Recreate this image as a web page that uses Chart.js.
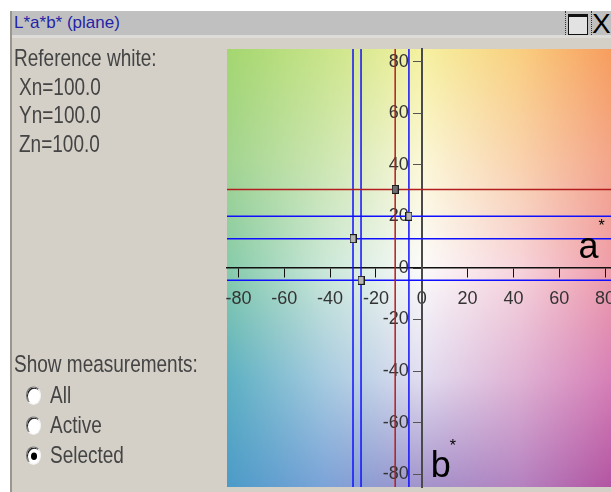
<!DOCTYPE html>
<html>
<head>
<meta charset="utf-8">
<title>L*a*b* (plane)</title>
<script src="https://cdn.jsdelivr.net/npm/chart.js@4.4.1/dist/chart.umd.min.js"></script>
<style>
  html, body { margin: 0; padding: 0; width: 611px; height: 492px; overflow: hidden; background: #fff; }
  body { position: relative; font-family: "Liberation Sans", Arial, sans-serif; }
  #win { position: absolute; left: 10px; top: 11px; width: 640px; height: 481px; background: #d4d0c8; border-left: 2px solid #9a968e; }
  #titlebar { position: absolute; left: 12px; top: 11px; width: 640px; height: 24px; background: #c0c0c0; }
  #band { position: absolute; left: 12px; top: 35px; width: 640px; height: 3px; background: #dedcd8; }
  #title { position: absolute; left: 14px; top: 13px; font-size: 17px; line-height: 20px; color: #2424a8; }
  .sep { position: absolute; top: 11px; height: 24px; border-left: 1px dotted #333; }
  #maxbox { position: absolute; left: 568px; top: 14px; width: 18px; height: 17px; background: #e2e2e2; border: 1.5px solid #111; border-top-width: 3px; }
  #close { position: absolute; left: 592px; top: 9px; font-size: 28px; line-height: 30px; color: #000; }
  .txt { position: absolute; font-size: 19px; line-height: 19px; color: #444; white-space: nowrap; transform: scaleY(1.25); transform-origin: left top; z-index: 3; }
  .radio { position: absolute; left: 26px; width: 13px; height: 13px; border-radius: 50%; background: #fff;
           border: 1.5px solid; border-color: #707070 #f4f4f4 #f4f4f4 #707070; box-shadow: inset 1px 1px 0 #222;
           transform: scaleY(1.25); transform-origin: center; z-index: 3; }
  .radio.on::after { content: ""; position: absolute; left: 3.5px; top: 3.5px; width: 6px; height: 6px; border-radius: 50%; background: #000; }
  #plot { position: absolute; left: 0; top: 0; width: 640px; height: 520px; z-index: 2; }
</style>
</head>
<body>
<div id="win"></div>
<div id="titlebar"></div>
<div id="band"></div>
<div id="title">L*a*b* (plane)</div>
<div class="sep" style="left:565px"></div>
<div id="maxbox"></div>
<div class="sep" style="left:591px"></div>
<div id="close">X</div>

<div class="txt" style="left:14px; top:45.6px">Reference white:</div>
<div class="txt" style="left:19px; top:74.9px">Xn=100.0</div>
<div class="txt" style="left:19px; top:103.2px">Yn=100.0</div>
<div class="txt" style="left:19px; top:131.6px">Zn=100.0</div>

<div class="txt" style="left:14px; top:351.6px">Show measurements:</div>
<div class="radio" style="top:388px"></div>
<div class="txt" style="left:50px; top:383.2px">All</div>
<div class="radio" style="top:418px"></div>
<div class="txt" style="left:50px; top:413.2px">Active</div>
<div class="radio on" style="top:448px"></div>
<div class="txt" style="left:50px; top:443.2px">Selected</div>

<div id="plot"><canvas id="chart" width="640" height="520"></canvas></div>

<script>
// a*b* plane ranges and ticks
const aRange = [-85, 85];
const bRange = [-85, 85];
const aTicks = [-80, -60, -40, -20, 0, 20, 40, 60, 80];
const bTicks = [-80, -60, -40, -20, 0, 20, 40, 60, 80];

// measurements (a*, b*), first one is the selected one
const measA = [-11.6, -5.6, -30.0, -26.5];
const measB = [30.5, 20.1, 11.4, -4.8];
const measSelected = [true, false, false, false];

// background colour nodes for the plane, rows from b*=+85 down to b*=-85
const planeNodes = [-85, -42.5, 0, 42.5, 85];
const planeColors = [
  ['#a3d66f', '#c9e489', '#f5f1a0', '#f9cf80', '#f79a5c'],
  ['#a2d48f', '#cde6b0', '#fbf7d6', '#f9d2ac', '#f3a388'],
  ['#86cbaa', '#cae7d8', '#fcfbfb', '#f7d4dc', '#ef9aa6'],
  ['#5db0c2', '#a6cbe0', '#e2ddf0', '#e0b3d4', '#d67db5'],
  ['#4b9bc8', '#7ba3d8', '#a393cb', '#b482c0', '#b352a0']
];

// y tick labels sit a little left of the b* axis line (in a* units)
const bLabelEdge = -5.7;

function hexToRgb(h) {
  return [parseInt(h.slice(1, 3), 16), parseInt(h.slice(3, 5), 16), parseInt(h.slice(5, 7), 16)];
}
const planeRgb = planeColors.map(row => row.map(hexToRgb));

function nodeIndex(v) {
  const n = planeNodes.length;
  if (v <= planeNodes[0]) return [0, 0];
  if (v >= planeNodes[n - 1]) return [n - 2, 1];
  for (let i = 0; i < n - 1; i++) {
    if (v <= planeNodes[i + 1]) return [i, (v - planeNodes[i]) / (planeNodes[i + 1] - planeNodes[i])];
  }
  return [n - 2, 1];
}

function planeColor(a, b) {
  const [ci, tx] = nodeIndex(a);
  const [ri, ty] = nodeIndex(-b); // rows go top-down
  const out = [0, 0, 0];
  for (let k = 0; k < 3; k++) {
    const c00 = planeRgb[ri][ci][k], c01 = planeRgb[ri][ci + 1][k];
    const c10 = planeRgb[ri + 1][ci][k], c11 = planeRgb[ri + 1][ci + 1][k];
    const top = c00 + (c01 - c00) * tx;
    const bot = c10 + (c11 - c10) * tx;
    out[k] = top + (bot - top) * ty;
  }
  return out;
}

// paint the a*b* plane under the axes
const planePlugin = {
  id: 'labPlane',
  beforeDraw(chart) {
    const { ctx, chartArea: ca, scales: { x, y } } = chart;
    const x0 = Math.round(ca.left), y0 = Math.round(ca.top);
    const w = Math.round(ca.right) - x0, h = Math.round(ca.bottom) - y0;
    const img = ctx.createImageData(w, h);
    for (let j = 0; j < h; j++) {
      const b = y.getValueForPixel(y0 + j + 0.5);
      for (let i = 0; i < w; i++) {
        const a = x.getValueForPixel(x0 + i + 0.5);
        const c = planeColor(a, b);
        const p = (j * w + i) * 4;
        img.data[p] = c[0];
        img.data[p + 1] = c[1];
        img.data[p + 2] = c[2];
        img.data[p + 3] = 255;
      }
    }
    ctx.putImageData(img, x0, y0);
  }
};

// big a* / b* axis names
const axisNamePlugin = {
  id: 'axisNames',
  afterDraw(chart) {
    const { ctx, chartArea: ca, scales: { x, y } } = chart;
    ctx.save();
    ctx.fillStyle = '#000';
    ctx.textBaseline = 'alphabetic';
    ctx.textAlign = 'left';
    ctx.font = '36px "Liberation Sans", Arial, sans-serif';
    ctx.fillText('a', ca.right - 38, y.getPixelForValue(0) - 10);
    ctx.fillText('b', x.getPixelForValue(0) + 9, ca.bottom - 10);
    ctx.font = '16px "Liberation Sans", Arial, sans-serif';
    ctx.fillText('*', ca.right - 18, y.getPixelForValue(0) - 37);
    ctx.fillText('*', x.getPixelForValue(0) + 28, ca.bottom - 36);
    ctx.restore();
  }
};

function makeMarker(fill) {
  const c = document.createElement('canvas');
  c.width = 7;
  c.height = 9;
  const g = c.getContext('2d');
  g.fillStyle = fill;
  g.fillRect(0, 0, 7, 9);
  g.strokeStyle = '#1a1a1a';
  g.lineWidth = 1;
  g.strokeRect(0.5, 0.5, 6, 8);
  return c;
}
const markerSel = makeMarker('#6e6e6e');
const markerNorm = makeMarker('#b4b4b4');

const lineColor = sel => (sel ? '#b31d1d' : '#1010ff');

const datasets = [];
measA.forEach((a, i) => {
  const col = lineColor(measSelected[i]);
  datasets.push({
    type: 'line', data: [{ x: a, y: bRange[0] }, { x: a, y: bRange[1] }],
    borderColor: col, borderWidth: 1.5, pointRadius: 0, order: 2
  });
  datasets.push({
    type: 'line', data: [{ x: aRange[0], y: measB[i] }, { x: aRange[1], y: measB[i] }],
    borderColor: col, borderWidth: 1.5, pointRadius: 0, order: 2
  });
});
datasets.push({
  type: 'scatter',
  data: measA.map((a, i) => ({ x: a, y: measB[i] })),
  pointStyle: measSelected.map(s => (s ? markerSel : markerNorm)),
  order: 0
});

Chart.defaults.font.family = '"Liberation Sans", Arial, sans-serif';

const tickFont = { size: 18 };

new Chart(document.getElementById('chart'), {
  type: 'scatter',
  data: { datasets },
  options: {
    responsive: false,
    animation: false,
    layout: { padding: { left: 227, top: 49, right: 23.5, bottom: 33 } },
    plugins: { legend: { display: false }, tooltip: { enabled: false } },
    scales: {
      x: {
        type: 'linear', min: aRange[0], max: aRange[1],
        position: { y: 0 },
        afterBuildTicks: s => { s.ticks = aTicks.map(v => ({ value: v })); },
        grid: { drawOnChartArea: false, drawTicks: true, tickLength: 9, color: '#111' },
        border: { display: true, color: '#111', width: 1.5 },
        ticks: { color: '#333', font: tickFont, padding: 11, maxRotation: 0, autoSkip: false }
      },
      y: {
        type: 'linear', min: bRange[0], max: bRange[1],
        position: { x: 0 },
        afterBuildTicks: s => { s.ticks = bTicks.map(v => ({ value: v })); },
        grid: { drawOnChartArea: false, drawTicks: true, tickLength: 8, color: '#555' },
        border: { display: true, color: '#4a4a4a', width: 2 },
        ticks: { display: false }
      },
      // label-only copy of the b* axis, placed just left of the tick marks
      yLabels: {
        type: 'linear', axis: 'y', min: bRange[0], max: bRange[1],
        position: { x: bLabelEdge },
        afterBuildTicks: s => { s.ticks = bTicks.map(v => ({ value: v })); },
        grid: { display: false },
        border: { display: false },
        ticks: { color: '#333', font: tickFont, autoSkip: false }
      }
    }
  },
  plugins: [planePlugin, axisNamePlugin]
});
</script>
</body>
</html>
